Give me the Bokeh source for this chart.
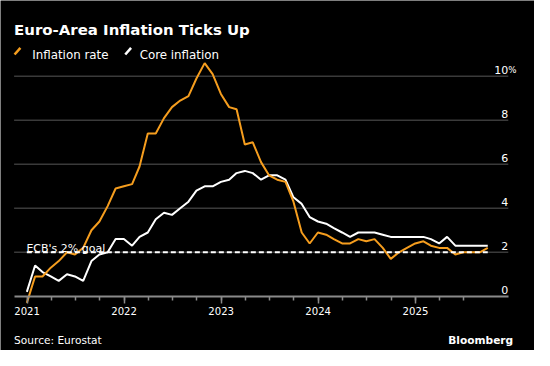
import pandas as pd
from bokeh.plotting import figure
from bokeh.models import Range1d, FixedTicker, DatetimeTickFormatter, ColumnDataSource
from bokeh.core.properties import value
from bokeh.embed import file_html
from bokeh.resources import INLINE

# ---------------- data ----------------
try:
    months = pd.date_range("2020-12-31", periods=58, freq="ME")
except Exception:
    months = pd.date_range("2020-12-31", periods=58, freq="M")

inflation_rate = [-0.3,
    0.9, 0.9, 1.3, 1.6, 2.0, 1.9, 2.2, 3.0, 3.4, 4.1, 4.9, 5.0,
    5.1, 5.9, 7.4, 7.4, 8.1, 8.6, 8.9, 9.1, 9.9, 10.6, 10.1, 9.2,
    8.6, 8.5, 6.9, 7.0, 6.1, 5.5, 5.3, 5.2, 4.3, 2.9, 2.4, 2.9,
    2.8, 2.6, 2.4, 2.4, 2.6, 2.5, 2.6, 2.2, 1.7, 2.0, 2.2, 2.4,
    2.5, 2.3, 2.2, 2.2, 1.9, 2.0, 2.0, 2.0, 2.2]

core_inflation = [0.2,
    1.4, 1.1, 0.9, 0.7, 1.0, 0.9, 0.7, 1.6, 1.9, 2.0, 2.6, 2.6,
    2.3, 2.7, 2.9, 3.5, 3.8, 3.7, 4.0, 4.3, 4.8, 5.0, 5.0, 5.2,
    5.3, 5.6, 5.7, 5.6, 5.3, 5.5, 5.5, 5.3, 4.5, 4.2, 3.6, 3.4,
    3.3, 3.1, 2.9, 2.7, 2.9, 2.9, 2.9, 2.8, 2.7, 2.7, 2.7, 2.7,
    2.7, 2.6, 2.4, 2.7, 2.3, 2.3, 2.3, 2.3, 2.3]

ecb_goal = 2.0
year_labels = ["2021", "2022", "2023", "2024", "2025"]
y_tick_values = [0, 2, 4, 6, 8, 10]
y_tick_labels = ["0", "2", "4", "6", "8", "10"]
grid_values = [2, 4, 6, 8, 10]

title_text = "Euro-Area Inflation Ticks Up"
legend_labels = ["Inflation rate", "Core inflation"]
source_text = "Source: Eurostat"
brand_text = "Bloomberg"
goal_label = "ECB's 2% goal"

# ---------------- layout (reference-pixel positions -> data units) ----------------
ORANGE = "#f59d1e"
WHITE = "#ffffff"
FONT = "DejaVu Sans"
REF_W, REF_H = 550, 366
W, H = 534, 350
S = (W / REF_W + H / REF_H) / 2  # font / length scale

T0 = pd.Timestamp("2021-01-01").value / 1e6
MS_YEAR = 365.25 * 86400000.0
X_T0_PX, PX_PER_YEAR = 27.4, 100.0
Y0_PX, PX_PER_UNIT = 309.3, 23.0


def xd(px):
    return T0 + (px - X_T0_PX) / PX_PER_YEAR * MS_YEAR


def yd(py):
    return (Y0_PX - py) / PX_PER_UNIT


def fs(px):
    return f"{px * S:.2f}px"


p = figure(width=W, height=H, x_axis_type="datetime", y_axis_location=None,
           x_range=Range1d(xd(0), xd(REF_W)), y_range=Range1d(yd(REF_H), yd(0)),
           output_backend="svg", toolbar_location=None, min_border=0,
           background_fill_color="black", border_fill_color="black",
           outline_line_color=None)
p.xgrid.visible = False
p.ygrid.visible = False

# gridlines
p.segment(x0=xd(14), x1=xd(523), y0=grid_values, y1=grid_values,
          line_color="#3a3a3a", line_width=1.5)

# x axis at y = 0
ax = p.xaxis[0]
ax.fixed_location = 0
ax.bounds = (xd(14), xd(523))
major = [pd.Timestamp(f"{y}-01-01").value / 1e6 for y in year_labels]
minor = [t.value / 1e6 for t in pd.date_range("2021-01-01", "2025-07-01", freq="QS")]
ax.ticker = FixedTicker(ticks=major, minor_ticks=minor)
ax.formatter = DatetimeTickFormatter(years="%Y", months="%Y", days="%Y")
ax.axis_line_color = "#8a8a8a"
ax.axis_line_width = 2
ax.major_tick_line_color = "#8a8a8a"
ax.minor_tick_line_color = "#8a8a8a"
ax.major_tick_line_width = 1.5
ax.minor_tick_line_width = 1.5
ax.major_tick_out = 7
ax.major_tick_in = 0
ax.minor_tick_out = 4
ax.minor_tick_in = 0
ax.major_label_standoff = 4
ax.major_label_text_color = WHITE
ax.major_label_text_font = FONT
ax.major_label_text_font_size = fs(10.5)

src = ColumnDataSource(dict(date=months, infl=inflation_rate, core=core_inflation))
p.line("date", "core", source=src, line_color=WHITE, line_width=2)
p.line("date", "infl", source=src, line_color=ORANGE, line_width=2)

# ECB goal line
p.line(x=[months[0], months[-1]], y=[ecb_goal, ecb_goal], line_color=WHITE,
       line_width=2, line_dash="5 3")
p.text(x=[xd(26.7)], y=[ecb_goal + 4 / PX_PER_UNIT], text=[goal_label],
       text_color=WHITE, text_font=value(FONT), text_font_size=fs(11.4),
       text_align="left", text_baseline="alphabetic")

# right-side value labels above the gridlines
p.text(x=[xd(523)] * len(y_tick_values), y=[v + 6.3 / PX_PER_UNIT for v in y_tick_values],
       text=y_tick_labels, text_color=WHITE, text_font=value(FONT),
       text_font_size=fs(11.4), text_align="right", text_baseline="alphabetic")
p.text(x=[xd(523)], y=[y_tick_values[-1] + 6.3 / PX_PER_UNIT], text=["%"],
       text_color=WHITE, text_font=value(FONT), text_font_size=fs(9),
       text_align="left", text_baseline="alphabetic")

# title
p.text(x=[xd(14)], y=[yd(31)], text=[title_text], text_color=WHITE,
       text_font=value(FONT), text_font_style="bold", text_font_size=fs(15.5),
       text_align="left", text_baseline="alphabetic")

# legend
p.segment(x0=[xd(14.5), xd(128.5)], y0=[yd(56.5)] * 2, x1=[xd(20.5), xd(134.5)],
          y1=[yd(49.5)] * 2, line_color=[ORANGE, WHITE], line_width=2.5)
p.text(x=[xd(32.7), xd(143.3)], y=[yd(57.3)] * 2, text=legend_labels,
       text_color=WHITE, text_font=value(FONT), text_font_size=fs(12.3),
       text_align="left", text_baseline="alphabetic")

# footer
p.text(x=[xd(14)], y=[yd(355.5)], text=[source_text], text_color=WHITE,
       text_font=value(FONT), text_font_size=fs(11), text_align="left",
       text_baseline="alphabetic")
p.text(x=[xd(528)], y=[yd(355.5)], text=[brand_text], text_color=WHITE,
       text_font=value(FONT), text_font_style="bold", text_font_size=fs(11),
       text_align="right", text_baseline="alphabetic")

open("out.html", "w").write(file_html(p, INLINE))
